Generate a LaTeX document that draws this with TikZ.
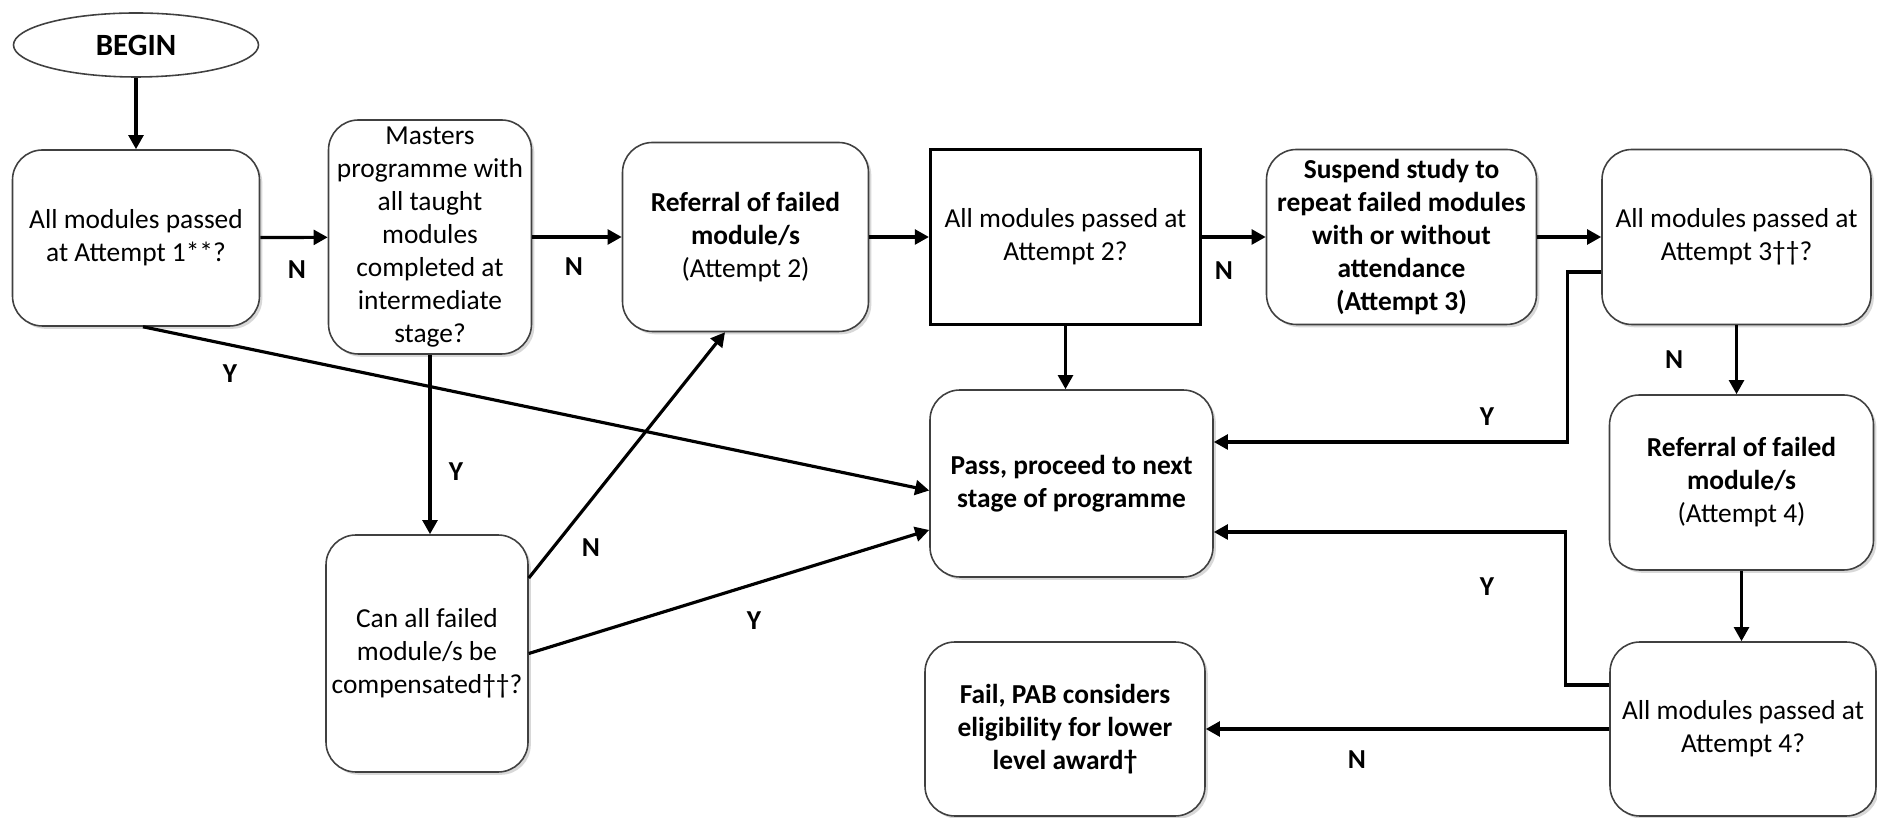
\documentclass[tikz,border=0pt]{standalone}
\usepackage{fontspec}
\setmainfont{Carlito}
\usetikzlibrary{arrows.meta,shapes.geometric,shadows}
\tikzset{
  box/.style={draw=black!75, line width=0.45pt, fill=white, rounded corners=0.3cm,
    align=center, inner sep=0pt,
    drop shadow={shadow xshift=0.8pt, shadow yshift=-0.8pt, fill=black!30}},
  link/.style={->, line width=0.9pt},
  lbl/.style={font=\fontsize{7.8}{9.4}\selectfont\bfseries},
}
\begin{document}
\begin{tikzpicture}[>={Triangle[length=4pt,width=4.2pt]},
    every edge/.append style={line width=0.9pt},
    font=\fontsize{7.8}{9.4}\selectfont]
		\useasboundingbox (0,0) rectangle (18.77,-8.18);
		% top row
		\node (Be) at (1.36,-0.45) [ellipse, draw=black!75, line width=0.45pt, minimum width=2.45cm, minimum height=0.64cm, inner sep=0pt, font=\fontsize{8.8}{10}\selectfont\bfseries] {BEGIN};
		\node (A1) at (1.36,-2.38) [box, minimum width=2.47cm, minimum height=1.76cm] {All modules passed\\at Attempt 1**?} edge [<-] (Be);
		\node (Ma) at (4.30,-2.37) [box, minimum width=2.03cm, minimum height=2.34cm] {Masters\\programme with\\all taught\\modules\\completed at\\intermediate\\stage?} edge [<-] (A1);
		\node (R2) at (7.455,-2.37) [box, minimum width=2.46cm, minimum height=1.89cm] {\textbf{Referral of failed}\\\textbf{module/s}\\(Attempt 2)} edge [<-] (Ma);
		\node (A2) at (10.655,-2.37) [draw, line width=0.9pt, minimum width=2.70cm, minimum height=1.75cm, align=center, inner sep=0pt] {All modules passed at\\Attempt 2?} edge [<-] (R2);
		\node (Su) at (14.015,-2.37) [box, minimum width=2.70cm, minimum height=1.75cm] {\textbf{Suspend study to}\\\textbf{repeat failed modules}\\\textbf{with or without}\\\textbf{attendance}\\\textbf{(Attempt 3)}} edge [<-] (A2);
		\node (A3) at (17.365,-2.37) [box, minimum width=2.69cm, minimum height=1.75cm] {All modules passed at\\Attempt 3††?} edge [<-] (Su);
		% middle and bottom
		\node (Pa) at (10.715,-4.835) [box, minimum width=2.83cm, minimum height=1.87cm] {\textbf{Pass, proceed to next}\\\textbf{stage of programme}};
		\node (R4) at (17.415,-4.825) [box, minimum width=2.64cm, minimum height=1.75cm] {\textbf{Referral of failed}\\\textbf{module/s}\\(Attempt 4)};
		\node (A4) at (17.43,-7.29) [box, minimum width=2.66cm, minimum height=1.74cm] {All modules passed at\\Attempt 4?};
		\node (Fa) at (10.65,-7.29) [box, minimum width=2.80cm, minimum height=1.74cm] {\textbf{Fail, PAB considers}\\\textbf{eligibility for lower}\\\textbf{level award†}};
		\node (Co) at (4.27,-6.535) [box, minimum width=2.02cm, minimum height=2.37cm] {Can all failed\\module/s be\\compensated††?};
		% connectors
		\draw[link] (Ma) -- (Ma |- Co.north);
		\draw[link] (A2) -- (A2 |- Pa.north);
		\draw[link] (A3) -- (A3 |- R4.north);
		\draw[link] (R4) -- (R4 |- A4.north);
		\draw[link] ([xshift=0.07cm]A1.south) -- ([yshift=-0.07cm]Pa.west);
		\draw[link] ([yshift=0.755cm]Co.east) -- ([xshift=-0.205cm]R2.south);
		\draw[link] (Co.east) -- ([yshift=-0.465cm]Pa.west);
		\draw[link] ([yshift=-0.35cm]A3.west) -- ++(-0.34,0) |- ([yshift=0.415cm]Pa.east);
		\draw[link] ([yshift=0.44cm]A4.west) -- ++(-0.44,0) |- ([yshift=-0.485cm]Pa.east);
		\draw[link] (A4.west) -- (Fa.east);
		% Y/N labels
		\node (lN1) at (2.97,-2.70) [lbl] {N};
		\node (lN2) at (5.74,-2.67) [lbl] {N};
		\node (lN3) at (12.24,-2.71) [lbl] {N};
		\node (lY1) at (2.30,-3.74) [lbl] {Y};
		\node (lY2) at (4.56,-4.72) [lbl] {Y};
		\node (lN4) at (5.91,-5.48) [lbl] {N};
		\node (lY3) at (7.54,-6.21) [lbl] {Y};
		\node (lY4) at (14.87,-4.17) [lbl] {Y};
		\node (lN5) at (16.74,-3.60) [lbl] {N};
		\node (lY5) at (14.87,-5.87) [lbl] {Y};
		\node (lN6) at (13.57,-7.60) [lbl] {N};
	\end{tikzpicture}
\end{document}
